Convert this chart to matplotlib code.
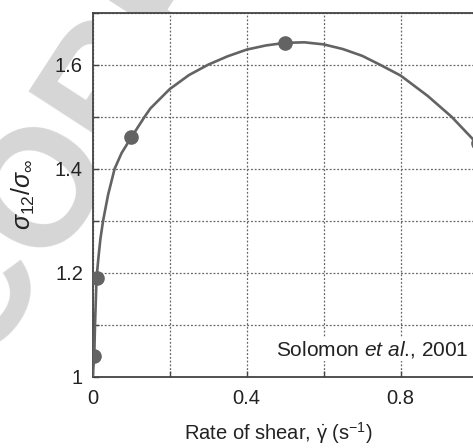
import matplotlib
matplotlib.use("Agg")
import matplotlib.pyplot as plt

plt.rcParams["font.family"] = ["Liberation Sans", "DejaVu Sans"]
plt.rcParams["mathtext.fontset"] = "custom"
plt.rcParams["mathtext.rm"] = "Liberation Sans"
plt.rcParams["mathtext.it"] = "Liberation Sans:italic"

# measured points (Solomon et al., 2001)
shear_rate = [0.004, 0.01, 0.1, 0.5, 1.0]
stress_ratio = [1.04, 1.19, 1.46, 1.642, 1.45]

# fitted curve
curve_x = [0.0, 0.004, 0.006, 0.01, 0.015, 0.02, 0.027, 0.04, 0.057, 0.075,
           0.1, 0.135, 0.15, 0.2, 0.25, 0.3, 0.35, 0.4, 0.45, 0.5, 0.55,
           0.6, 0.65, 0.7, 0.746, 0.8, 0.87, 0.932, 1.0]
curve_y = [1.0, 1.04, 1.1, 1.19, 1.23, 1.265, 1.3, 1.35, 1.4, 1.43,
           1.46, 1.5, 1.516, 1.553, 1.58, 1.6, 1.616, 1.629, 1.637, 1.642, 1.643,
           1.639, 1.63, 1.617, 1.6, 1.579, 1.54, 1.5, 1.447]

x_ticks = [0, 0.2, 0.4, 0.6, 0.8, 1.0]
x_labels = ["0", "", "0.4", "", "0.8", ""]
y_ticks = [1.0, 1.1, 1.2, 1.3, 1.4, 1.5, 1.6, 1.7]
y_labels = ["1", "", "1.2", "", "1.4", "", "1.6", ""]

grey = "#636363"

fig = plt.figure(figsize=(4.73, 4.48), dpi=100)

# proof watermark, hidden behind the axes
fig.text(-147 / 473, 1 - 575 / 448, "UNCORRECTED PROOF", fontsize=120,
         fontweight="bold", color="#d6d6d6", rotation=57,
         rotation_mode="anchor", ha="left", va="baseline", zorder=-5)

ax = fig.add_axes([0.196, 0.1592, 0.8139, 0.8125])
ax.set_facecolor("white")

ax.plot(curve_x, curve_y, color=grey, lw=1.9, zorder=3)
ax.plot(shear_rate, stress_ratio, "o", color=grey, ms=9.5, zorder=4)

ax.set_xlim(0, 1.0)
ax.set_ylim(1.0, 1.7)
ax.set_xticks(x_ticks)
ax.set_xticklabels(x_labels)
ax.set_yticks(y_ticks)
ax.set_yticklabels(y_labels)
ax.tick_params(direction="in", length=4, width=1.0, color="#444444",
               labelsize=14.5, labelcolor="#222222")
ax.tick_params(axis="x", pad=9)
ax.tick_params(axis="y", pad=7)

ax.grid(True, color="#666666", lw=0.9, linestyle=(0, (1.5, 1.5)))
for s in ax.spines.values():
    s.set_color("#444444")
    s.set_linewidth(1.3)

ax.set_xlabel(r"Rate of shear, $\dot{\mathrm{\gamma}}$ (s$^{-1}$)",
              fontsize=14.5, color="#222222", va="top")
ax.xaxis.set_label_coords(0.482, -0.118)
ax.set_ylabel(r"$\sigma_{12}/\sigma_{\infty}$", fontsize=18, color="#222222")
ax.yaxis.set_label_coords(-0.145, 0.5)

ax.text(0.975, 0.075, r"Solomon $\mathit{et\ al}$., 2001", transform=ax.transAxes,
        ha="right", va="center", fontsize=15, color="#222222",
        bbox=dict(facecolor="white", edgecolor="none", pad=1))

fig.savefig("out.png", dpi=100)
